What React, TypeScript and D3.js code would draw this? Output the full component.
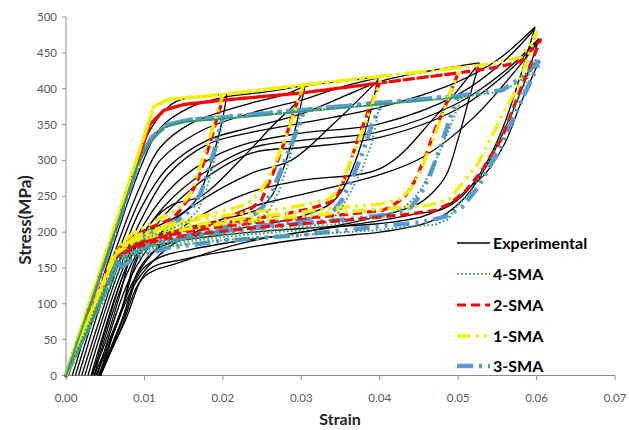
import React from 'react';
import * as d3 from 'd3';

type P = [number, number];

const xTicks = [0, 0.01, 0.02, 0.03, 0.04, 0.05, 0.06, 0.07];
const yTicks = [0, 50, 100, 150, 200, 250, 300, 350, 400, 450, 500];
const legendNames = ['Experimental', '4-SMA', '2-SMA', '1-SMA', '3-SMA'];

// 1-SMA (yellow) — full loading history: cycles to 0.02, 0.03, 0.04, 0.05, 0.06
const sma1: P[] = [
  [0, 0], [0.0112, 375], [0.013, 385], [0.02, 392],
  [0.0189, 352], [0.0178, 314], [0.0169, 286], [0.0159, 254], [0.0146, 235], [0.0133, 226], [0.0104, 210], [0.0086, 199], [0.0069, 182], [0.006, 166], [0, 0],
  [0.0112, 375], [0.013, 385], [0.02, 392], [0.0303, 405],
  [0.0296, 384], [0.0285, 346], [0.0272, 310], [0.0257, 272], [0.0246, 254], [0.0232, 240], [0.0214, 233], [0.0172, 222], [0.013, 210], [0.0095, 197], [0.0072, 182], [0.0062, 166], [0, 0],
  [0.0112, 375], [0.013, 385], [0.02, 392], [0.03, 405], [0.0403, 417],
  [0.0392, 384], [0.038, 346], [0.0368, 314], [0.0355, 277], [0.0347, 258], [0.0335, 246], [0.03, 237], [0.0258, 230], [0.0214, 225], [0.017, 218], [0.013, 208], [0.0095, 196], [0.0072, 181], [0.0062, 166], [0, 0],
  [0.0112, 375], [0.013, 385], [0.02, 392], [0.03, 405], [0.04, 417], [0.0503, 430],
  [0.049, 395], [0.0477, 355], [0.0463, 315], [0.045, 280], [0.0438, 258], [0.0425, 246], [0.04, 239], [0.035, 234], [0.03, 228], [0.025, 222], [0.02, 216], [0.015, 208], [0.011, 198], [0.008, 185], [0.0063, 168], [0, 0],
  [0.0112, 375], [0.013, 385], [0.02, 392], [0.03, 405], [0.04, 417], [0.05, 429], [0.055, 436], [0.058, 444], [0.06, 478],
  [0.0575, 400], [0.0553, 356], [0.0525, 295], [0.0501, 262], [0.0488, 245], [0.046, 237], [0.04, 232], [0.03, 222], [0.02, 212], [0.013, 200], [0.009, 188], [0.0066, 172], [0.0058, 160], [0, 0],
];

// 2-SMA (red)
const sma2: P[] = [
  [0, 0], [0.0107, 350], [0.0125, 370], [0.015, 378], [0.02, 384],
  [0.0195, 368], [0.0182, 318], [0.0168, 272], [0.0155, 244], [0.0142, 226], [0.0133, 218], [0.0105, 205], [0.0085, 192], [0.0068, 178], [0.0058, 162], [0, 0],
  [0.0107, 350], [0.0125, 370], [0.015, 378], [0.02, 384], [0.025, 389], [0.03, 394],
  [0.0291, 370], [0.0278, 324], [0.0264, 282], [0.0249, 244], [0.0236, 233], [0.0214, 224], [0.0194, 215], [0.0172, 207], [0.0133, 198], [0.01, 188], [0.0075, 176], [0.006, 162], [0, 0],
  [0.0107, 350], [0.0125, 370], [0.015, 378], [0.02, 384], [0.03, 394], [0.04, 408],
  [0.0386, 370], [0.0373, 332], [0.036, 290], [0.0351, 262], [0.0342, 244], [0.0313, 233], [0.0278, 225], [0.0236, 218], [0.0194, 212], [0.015, 203], [0.011, 192], [0.008, 178], [0.006, 162], [0, 0],
  [0.0107, 350], [0.0125, 370], [0.015, 378], [0.02, 384], [0.03, 394], [0.04, 408], [0.05, 422],
  [0.0483, 374], [0.047, 342], [0.0458, 304], [0.0445, 272], [0.0432, 249], [0.0415, 236], [0.0403, 230], [0.035, 224], [0.03, 219], [0.025, 214], [0.02, 208], [0.015, 200], [0.011, 190], [0.008, 177], [0.006, 162], [0, 0],
  [0.0107, 350], [0.0125, 370], [0.015, 378], [0.02, 384], [0.03, 394], [0.04, 408], [0.05, 422], [0.055, 430], [0.058, 438], [0.0605, 468],
  [0.058, 400], [0.0555, 330], [0.053, 285], [0.051, 258], [0.049, 240], [0.047, 230], [0.043, 224], [0.035, 216], [0.025, 207], [0.017, 198], [0.012, 189], [0.0085, 177], [0.0062, 163], [0, 0],
];

// 3-SMA (blue)
const sma3: P[] = [
  [0, 0], [0.0095, 305], [0.011, 333], [0.013, 350], [0.016, 357], [0.02, 360],
  [0.0193, 330], [0.0183, 290], [0.0172, 255], [0.016, 232], [0.0145, 218], [0.013, 210], [0.011, 200], [0.0085, 186], [0.0066, 168], [0, 0],
  [0.0095, 305], [0.011, 333], [0.013, 350], [0.016, 357], [0.02, 360], [0.0304, 371],
  [0.0297, 348], [0.0287, 322], [0.0274, 286], [0.0262, 254], [0.0249, 232], [0.0232, 218], [0.0194, 204], [0.0172, 199], [0.013, 190], [0.0095, 180], [0.007, 165], [0, 0],
  [0.0095, 305], [0.011, 333], [0.013, 350], [0.016, 357], [0.02, 360], [0.03, 370], [0.0403, 381],
  [0.039, 350], [0.0378, 310], [0.0365, 275], [0.0352, 245], [0.034, 228], [0.032, 220], [0.028, 213], [0.024, 207], [0.02, 201], [0.015, 193], [0.011, 183], [0.008, 170], [0.0065, 158], [0, 0],
  [0.0095, 305], [0.011, 333], [0.013, 350], [0.016, 357], [0.02, 360], [0.03, 370], [0.04, 380], [0.05, 390],
  [0.049, 360], [0.0478, 320], [0.0465, 282], [0.0452, 252], [0.044, 235], [0.042, 226], [0.038, 220], [0.03, 212], [0.022, 203], [0.016, 194], [0.011, 182], [0.008, 168], [0.0065, 155], [0, 0],
  [0.0095, 305], [0.011, 333], [0.013, 350], [0.016, 357], [0.02, 360], [0.03, 370], [0.04, 380], [0.05, 390], [0.0556, 398], [0.058, 415], [0.0605, 440],
  [0.0575, 370], [0.055, 310], [0.0525, 262], [0.0505, 235], [0.0485, 222], [0.0455, 214], [0.04, 208], [0.03, 196], [0.02, 188], [0.013, 178], [0.009, 165], [0.0068, 150], [0.006, 140], [0, 0],
];

// 4-SMA (green)
const sma4: P[] = [
  [0, 0], [0.009, 290], [0.0105, 322], [0.0125, 346], [0.015, 354], [0.02, 358],
  [0.0195, 330], [0.0187, 290], [0.0178, 255], [0.0168, 230], [0.0155, 215], [0.0135, 205], [0.011, 195], [0.0085, 182], [0.0065, 162], [0, 0],
  [0.009, 290], [0.0105, 322], [0.0125, 346], [0.015, 354], [0.02, 358], [0.03, 368],
  [0.0293, 335], [0.0283, 295], [0.0272, 258], [0.026, 232], [0.0245, 215], [0.022, 207], [0.018, 200], [0.013, 190], [0.009, 177], [0.0067, 160], [0, 0],
  [0.009, 290], [0.0105, 322], [0.0125, 346], [0.015, 354], [0.02, 358], [0.03, 368], [0.04, 378],
  [0.039, 324], [0.0377, 286], [0.0362, 254], [0.0347, 226], [0.033, 212], [0.03, 207], [0.025, 201], [0.02, 196], [0.014, 188], [0.01, 178], [0.0075, 165], [0.0065, 155], [0, 0],
  [0.009, 290], [0.0105, 322], [0.0125, 346], [0.015, 354], [0.02, 358], [0.03, 368], [0.04, 378], [0.0505, 388],
  [0.0488, 342], [0.047, 296], [0.0454, 262], [0.0441, 244], [0.0428, 232], [0.04, 222], [0.035, 212], [0.03, 203], [0.025, 198], [0.02, 193], [0.014, 185], [0.01, 175], [0.0075, 162], [0, 0],
  [0.009, 290], [0.0105, 322], [0.0125, 346], [0.015, 354], [0.02, 358], [0.03, 368], [0.04, 378], [0.05, 388], [0.0556, 396], [0.058, 412], [0.06, 442],
  [0.057, 370], [0.054, 300], [0.0515, 255], [0.0495, 232], [0.0488, 218], [0.047, 210], [0.044, 208], [0.04, 203], [0.03, 196], [0.02, 189], [0.013, 180], [0.009, 168], [0.0066, 152], [0, 0],
];

// Experimental (black) — reloading curves
const expLoad: P[][] = [
  [[0.0003, 0], [0.006, 195], [0.0098, 322], [0.0118, 360], [0.014, 382], [0.017, 389], [0.0205, 392]],
  [[0.0008, 0], [0.006, 180], [0.0095, 290], [0.012, 345], [0.016, 375], [0.0205, 389], [0.0236, 393], [0.027, 398], [0.0305, 405]],
  [[0.0012, 0], [0.006, 165], [0.0095, 265], [0.012, 318], [0.016, 352], [0.0236, 380], [0.028, 392], [0.0305, 403], [0.035, 410], [0.0398, 416]],
  [[0.0016, 0], [0.0062, 158], [0.0095, 248], [0.012, 300], [0.017, 340], [0.0236, 366], [0.03, 384], [0.035, 402], [0.0398, 415]],
  [[0.002, 0], [0.0065, 150], [0.0095, 232], [0.013, 290], [0.018, 328], [0.0236, 346], [0.03, 365], [0.036, 392], [0.04, 410], [0.046, 424], [0.0527, 436]],
  [[0.0024, 0], [0.0068, 148], [0.0098, 222], [0.013, 280], [0.018, 322], [0.0236, 339], [0.03, 352], [0.04, 374], [0.05, 410], [0.055, 440], [0.0598, 486]],
  [[0.0028, 0], [0.007, 142], [0.01, 212], [0.014, 268], [0.019, 306], [0.0236, 325], [0.03, 338], [0.04, 351], [0.05, 392], [0.056, 440], [0.0598, 484]],
  [[0.0032, 0], [0.0073, 140], [0.0103, 205], [0.015, 262], [0.0236, 317], [0.03, 328], [0.04, 340], [0.05, 380], [0.056, 425], [0.0603, 470]],
  [[0.0036, 0], [0.0076, 138], [0.0107, 198], [0.016, 260], [0.0236, 310], [0.03, 318], [0.04, 332], [0.05, 372], [0.056, 420], [0.0603, 468]],
  [[0.004, 0], [0.008, 132], [0.0115, 192], [0.016, 235], [0.0236, 282], [0.0287, 300], [0.034, 350], [0.0398, 412]],
  [[0.0044, 0], [0.0085, 130], [0.012, 182], [0.017, 222], [0.0236, 256], [0.03, 272], [0.0403, 290], [0.047, 360], [0.0527, 436]],
  [[0.0042, 0], [0.0088, 128], [0.013, 178], [0.018, 208], [0.0236, 235], [0.0287, 249], [0.04, 280], [0.0454, 304], [0.052, 360], [0.0603, 466]],
  [[0.0034, 0], [0.008, 160], [0.011, 215], [0.0135, 238], [0.0172, 250], [0.022, 298], [0.0265, 350], [0.0296, 384], [0.0305, 405]],
];

// Experimental (black) — unloading curves
const expUnload: P[][] = [
  [[0.0205, 392], [0.0201, 365], [0.0191, 320], [0.0178, 274], [0.0164, 242], [0.0145, 224], [0.012, 210], [0.0098, 198], [0.0085, 175], [0.0068, 110], [0.0048, 40], [0.0032, 0]],
  [[0.0305, 405], [0.0299, 375], [0.0289, 330], [0.0276, 285], [0.0262, 250], [0.0245, 232], [0.02, 218], [0.015, 205], [0.011, 192], [0.0092, 165], [0.0068, 80], [0.0038, 0]],
  [[0.0398, 416], [0.0391, 380], [0.038, 335], [0.0366, 290], [0.0352, 258], [0.0335, 238], [0.03, 222], [0.025, 210], [0.02, 202], [0.015, 190], [0.0115, 176], [0.0093, 148], [0.0072, 80], [0.0042, 0]],
  [[0.0527, 436], [0.0515, 390], [0.05, 330], [0.0485, 280], [0.047, 258], [0.045, 240], [0.042, 228], [0.035, 210], [0.028, 196], [0.023, 189], [0.016, 176], [0.012, 165], [0.0095, 145], [0.0075, 85], [0.0044, 0]],
  [[0.0598, 486], [0.058, 420], [0.0555, 340], [0.053, 285], [0.0505, 250], [0.048, 232], [0.045, 226], [0.04, 216], [0.03, 200], [0.023, 186], [0.0146, 158], [0.0099, 137], [0.007, 65], [0.0044, 0]],
  [[0.0603, 470], [0.0585, 410], [0.056, 345], [0.0535, 290], [0.051, 250], [0.0485, 226], [0.046, 213], [0.04, 200], [0.03, 190], [0.023, 178], [0.015, 162], [0.0105, 147], [0.0075, 75], [0.0042, 0]],
  [[0.0604, 440], [0.058, 380], [0.056, 325], [0.0535, 282], [0.0514, 262], [0.049, 240], [0.0455, 222], [0.04, 212], [0.03, 205], [0.02, 196], [0.013, 185], [0.0095, 172], [0.007, 90], [0.0036, 0]],
];

const W = 629;
const H = 430;
const x = d3.scaleLinear().domain([0, 0.07]).range([66, 615]);
const y = d3.scaleLinear().domain([0, 500]).range([375.5, 17]);
const modelLine = d3.line<P>().x((d) => x(d[0])).y((d) => y(d[1]));
const expLine = d3
  .line<P>()
  .x((d) => x(d[0]))
  .y((d) => y(d[1]))
  .curve(d3.curveCatmullRom.alpha(0.5));

const FONT = 'Lato, "Open Sans", sans-serif';

const styles = {
  exp: { stroke: '#000000', width: 1.3, dash: 'none' },
  sma4: { stroke: '#2f9e62', width: 2, dash: '1.6,2.4' },
  sma2: { stroke: '#ff0000', width: 3.2, dash: '9,5' },
  sma1: { stroke: '#f2f200', width: 3.5, dash: '14,5,3,5,3,5' },
  sma3: { stroke: '#5b9bd5', width: 4.5, dash: '16,6,3,6,3,6' },
};

const legendStyles = [styles.exp, styles.sma4, styles.sma2, styles.sma1, styles.sma3];
const legendY = [243, 274, 305, 336, 366];

export default function App() {
  return (
    <svg
      width={W}
      height={H}
      style={{ position: 'absolute', left: 0, top: 0, background: '#ffffff' }}
      fontFamily={FONT}
    >
      <rect x={0} y={0} width={W} height={H} fill="#ffffff" />
      {/* axes */}
      <line x1={66} x2={66} y1={17} y2={375.5} stroke="#8c8c8c" strokeWidth={1} />
      <line x1={66} x2={615} y1={375.5} y2={375.5} stroke="#8c8c8c" strokeWidth={1} />
      {yTicks.map((t) => (
        <g key={'y' + t}>
          <line x1={62} x2={66} y1={y(t)} y2={y(t)} stroke="#8c8c8c" />
          <text x={57} y={y(t)} dy="0.35em" textAnchor="end" fontSize={11.5} fill="#595959">
            {t}
          </text>
        </g>
      ))}
      {xTicks.map((t) => (
        <g key={'x' + t}>
          <line x1={x(t)} x2={x(t)} y1={375.5} y2={380} stroke="#8c8c8c" />
          <text x={x(t)} y={398} dy="0.35em" textAnchor="middle" fontSize={11.5} fill="#595959">
            {t.toFixed(2)}
          </text>
        </g>
      ))}
      <text
        transform={`translate(25,220) rotate(-90)`}
        textAnchor="middle"
        dy="0.35em"
        fontSize={17}
        fontWeight="bold"
        fill="#262626"
      >
        Stress(MPa)
      </text>
      <text x={340} y={419} dy="0.35em" textAnchor="middle" fontSize={16} fontWeight="bold" fill="#262626">
        Strain
      </text>

      {/* series */}
      {expLoad.concat(expUnload).map((c, i) => (
        <path key={'e' + i} d={expLine(c) || ''} fill="none" stroke="#000" strokeWidth={styles.exp.width} strokeLinejoin="round" />
      ))}
      <path d={modelLine(sma3) || ''} fill="none" stroke={styles.sma3.stroke} strokeWidth={styles.sma3.width} strokeDasharray={styles.sma3.dash} strokeLinejoin="round" />
      <path d={modelLine(sma2) || ''} fill="none" stroke={styles.sma2.stroke} strokeWidth={styles.sma2.width} strokeDasharray={styles.sma2.dash} strokeLinejoin="round" />
      <path d={modelLine(sma1) || ''} fill="none" stroke={styles.sma1.stroke} strokeWidth={styles.sma1.width} strokeDasharray={styles.sma1.dash} strokeLinejoin="round" />
      <path d={modelLine(sma4) || ''} fill="none" stroke={styles.sma4.stroke} strokeWidth={styles.sma4.width} strokeDasharray={styles.sma4.dash} strokeLinejoin="round" />

      {/* legend */}
      {legendNames.map((n, i) => (
        <g key={n}>
          <line
            x1={457}
            x2={490}
            y1={legendY[i]}
            y2={legendY[i]}
            stroke={legendStyles[i].stroke}
            strokeWidth={legendStyles[i].width}
            strokeDasharray={legendStyles[i].dash}
          />
          <text x={493} y={legendY[i]} dy="0.35em" fontSize={16} fontWeight="bold" fill="#000">
            {n}
          </text>
        </g>
      ))}
    </svg>
  );
}
